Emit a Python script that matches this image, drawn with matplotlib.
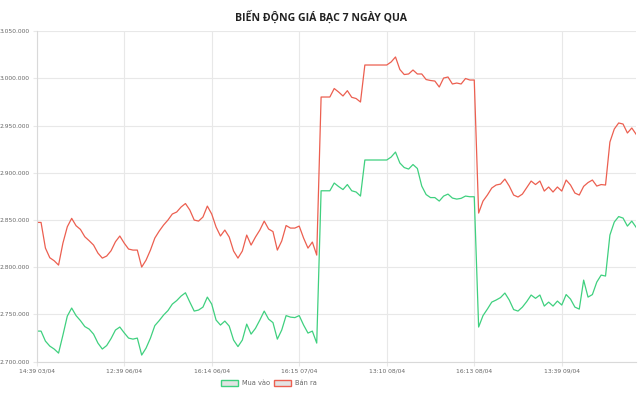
import matplotlib.pyplot as plt
from matplotlib.patches import Patch
from matplotlib.ticker import FuncFormatter

# Gia mua vao / ban ra (VND), doc tu bieu do goc
mua_vao = [
    2732400, 2732400, 2721800, 2716500, 2713400, 2709100, 2728200, 2748300, 2756800, 2748800,
    2743500, 2737200, 2734500, 2729200, 2719700, 2713400, 2717100, 2724500, 2733500, 2736700,
    2730600, 2725000, 2723900, 2725000, 2707000, 2714400, 2725000, 2738200, 2743500, 2749400,
    2754100, 2761000, 2764700, 2769500, 2773000, 2763100, 2753600, 2754700, 2757800, 2768400,
    2761000, 2744100, 2738800, 2743000, 2737700, 2722900, 2716000, 2722900, 2739800, 2729200,
    2735300, 2744100, 2753600, 2745100, 2741400, 2723900, 2733500, 2748800, 2747200, 2746700,
    2748800, 2738800, 2730300, 2732400, 2719700, 2881000, 2881000, 2881000, 2889200, 2885500,
    2882300, 2887600, 2881000, 2879700, 2875400, 2913600, 2913600, 2913600, 2913600, 2913600,
    2913600, 2916700, 2922000, 2910400, 2905600, 2904000, 2908800, 2904600, 2886000, 2877000,
    2873800, 2873800, 2870100, 2875400, 2877500, 2873300, 2872200, 2873000, 2875400, 2874700,
    2874700, 2736700, 2748800, 2755700, 2763100, 2765300, 2767900, 2772700, 2765300, 2755200,
    2753600, 2757800, 2763700, 2770600, 2767100, 2770600, 2758900, 2763100, 2758900, 2764200,
    2760000, 2771100, 2766300, 2757800, 2755700, 2786400, 2768400, 2771100, 2784300, 2791700,
    2790700, 2834100, 2847900, 2853700, 2852100, 2843600, 2848900, 2842300,
]
ban_ra = [
    2847500, 2847500, 2820300, 2810100, 2806900, 2802300, 2825600, 2842900, 2851800, 2844000,
    2840100, 2832300, 2828100, 2823500, 2815000, 2809700, 2811900, 2817500, 2827000, 2833100,
    2825600, 2819300, 2818200, 2818200, 2800200, 2807600, 2818200, 2830900, 2838300, 2844700,
    2850000, 2856400, 2858500, 2863800, 2867500, 2860600, 2850000, 2848900, 2853200, 2864800,
    2856400, 2842600, 2833100, 2839400, 2832000, 2817200, 2809700, 2817200, 2834100, 2823500,
    2832000, 2839400, 2848900, 2840500, 2837800, 2818200, 2827800, 2844200, 2841500, 2841500,
    2843600, 2830900, 2820300, 2826700, 2812900, 2980300, 2980300, 2980300, 2989300, 2985600,
    2981400, 2987000, 2980000, 2978700, 2975000, 3014200, 3014200, 3014200, 3014200, 3014200,
    3014200, 3017400, 3022700, 3009400, 3004100, 3004700, 3008900, 3004700, 3004700, 2998800,
    2997800, 2997200, 2990900, 3000400, 3001500, 2994100, 2995100, 2994100, 2999900, 2998300,
    2998300, 2857400, 2870100, 2876500, 2883900, 2887100, 2888100, 2893400, 2886000, 2876500,
    2874400, 2877500, 2884400, 2891300, 2887600, 2891300, 2880700, 2885000, 2879700, 2885000,
    2880700, 2892400, 2887100, 2878600, 2876500, 2885700, 2889700, 2892400, 2886000, 2887600,
    2887100, 2932600, 2946400, 2952800, 2951700, 2942200, 2947500, 2940800,
]
tick_labels = ["14:39 03/04", "12:39 06/04", "16:14 06/04", "16:15 07/04",
               "13:10 08/04", "16:13 08/04", "13:39 09/04"]
tick_every = 20

xs = list(range(len(mua_vao)))

fig = plt.figure(figsize=(6.4, 3.99), dpi=100)
ax = fig.add_axes([0.0573, 0.0935, 0.9367, 0.8283])

green = '#3fd07f'
red = '#ec5f50'
ax.plot(xs, mua_vao, color=green, lw=0.9)
ax.plot(xs, ban_ra, color=red, lw=0.9)

ax.set_xlim(0, len(xs) - 1)
ax.set_ylim(2700000, 3050000)
ax.set_yticks(range(2700000, 3050001, 50000))
ax.yaxis.set_major_formatter(FuncFormatter(lambda v, p: f"{v:,.0f}".replace(",", ".")))
ax.set_xticks(range(0, len(xs), tick_every)[:len(tick_labels)])
ax.set_xticklabels(tick_labels)

ax.grid(True, color='#e8e8e8', lw=0.8)
ax.set_axisbelow(True)
for side in ['top', 'right']:
    ax.spines[side].set_visible(False)
for side in ['left', 'bottom']:
    ax.spines[side].set_color('#d9d9d9')
    ax.spines[side].set_linewidth(0.8)
ax.tick_params(axis='both', length=3, width=0.8, color='#e8e8e8',
               labelsize=4.3, labelcolor='#666666', pad=2)

fig.text(0.502, 0.958, "BIẾN ĐỘNG GIÁ BẠC 7 NGÀY QUA", ha='center', va='center',
         fontsize=7.6, fontweight='bold', family='Open Sans', color='#222222')

handles = [Patch(facecolor='#e3e3e3', edgecolor=green, lw=1.0, label='Mua vào'),
           Patch(facecolor='#e3e3e3', edgecolor=red, lw=1.0, label='Bán ra')]
leg = fig.legend(handles=handles, loc='center', bbox_to_anchor=(0.42, 0.04),
                 ncol=2, frameon=False, fontsize=4.8, handlelength=2.6,
                 handleheight=1.0, handletextpad=0.5, columnspacing=0.6)
for t in leg.get_texts():
    t.set_color('#666666')

fig.savefig('out.png', dpi=100)
